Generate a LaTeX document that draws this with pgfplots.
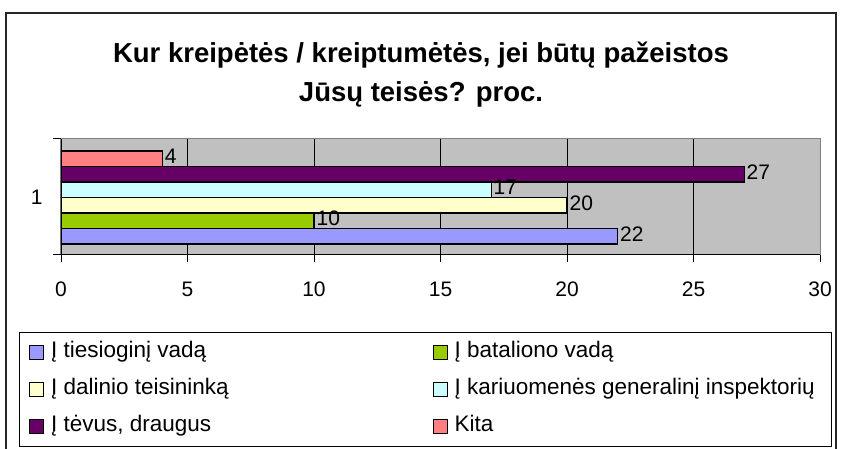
\documentclass[border=0pt]{standalone}
\usepackage{pgfplots}
\pgfplotsset{compat=1.18}
\usepackage{fontspec}
\setmainfont{Liberation Sans}
\definecolor{cA}{HTML}{9999FF}
\definecolor{cB}{HTML}{99CC00}
\definecolor{cC}{HTML}{FFFFCC}
\definecolor{cD}{HTML}{CCFFFF}
\definecolor{cE}{HTML}{660066}
\definecolor{cF}{HTML}{FF8080}
\definecolor{plotgray}{HTML}{C0C0C0}
\begin{document}
\begin{tikzpicture}[x=1pt,y=1pt]
\path[use as bounding box] (0pt,0pt) rectangle (841pt,448pt);
\draw[line width=1.5pt, black!85] (6pt,-20pt) -- (6pt,435pt) -- (836pt,435pt) -- (836pt,-20pt);
\node[font=\fontsize{27.5}{32}\selectfont\bfseries, anchor=base] at (421pt,385pt) {Kur kreipėtės / kreiptumėtės, jei būtų pažeistos};
\node[font=\fontsize{27.5}{32}\selectfont\bfseries, anchor=base] at (421pt,346pt) {Jūsų teisės? proc.};
\begin{axis}[
  at={(61pt,194pt)}, anchor=south west,
  scale only axis, width=759pt, height=116pt,
  xbar=0pt, bar width=15.5pt,
  xmin=0, xmax=30, ymin=0.513, ymax=1.513,
  xtick={0,5,...,30}, ytick={1},
  xtick pos=bottom, ytick pos=left,
  axis background/.style={fill=plotgray},
  axis line style={draw=gray, line width=1pt},
  xmajorgrids, major grid style={black, line width=0.9pt},
  tick align=outside, major tick length=8pt,
  xtick style={black, line width=0.9pt},
  ytick style={draw=none},
  extra y ticks={0.513,1.513}, extra y tick labels={},
  extra y tick style={ytick style={draw=black, line width=0.9pt}, ytick pos=left},
  /pgf/number format/assume math mode=true,
  ticklabel style={font=\fontsize{21}{25}\selectfont},
  xticklabel style={yshift=-16pt, text height=15pt, text depth=0pt},
  yticklabel style={xshift=-7pt},
  nodes near coords,
  nodes near coords style={font=\fontsize{21}{25}\selectfont, black, anchor=west, inner xsep=2pt, yshift=2pt},
  legend image code/.code={\draw[#1, line width=1pt] (0pt,-7pt) rectangle (14pt,7pt);},
  legend columns=2,
  legend cell align=left,
  legend style={at={(-0.0553,-0.672)}, anchor=north west, draw=black, line width=1pt,
    inner xsep=9.5pt, inner ysep=8.5pt, row sep=14pt, column sep=0pt,
    nodes={font=\fontsize{22.5}{27}\selectfont, text height=16pt, text depth=5pt, inner xsep=7pt, inner ysep=1pt},
    /tikz/every even column/.append style={column sep=197pt}},
]
\addplot[fill=cA, draw=black, line width=1.2pt] coordinates {(22,1)};
\addplot[fill=cB, draw=black, line width=1.2pt] coordinates {(10,1)};
\addplot[fill=cC, draw=black, line width=1.2pt] coordinates {(20,1)};
\addplot[fill=cD, draw=black, line width=1.2pt] coordinates {(17,1)};
\addplot[fill=cE, draw=black, line width=1.2pt] coordinates {(27,1)};
\addplot[fill=cF, draw=black, line width=1.2pt] coordinates {(4,1)};
\legend{Į tiesioginį vadą, Į bataliono vadą, Į dalinio teisininką, Į kariuomenės generalinį inspektorių, {Į tėvus, draugus}, Kita}
\draw[black, line width=1pt] (rel axis cs:0,0) -- (rel axis cs:1,0);
\end{axis}
\end{tikzpicture}
\end{document}
